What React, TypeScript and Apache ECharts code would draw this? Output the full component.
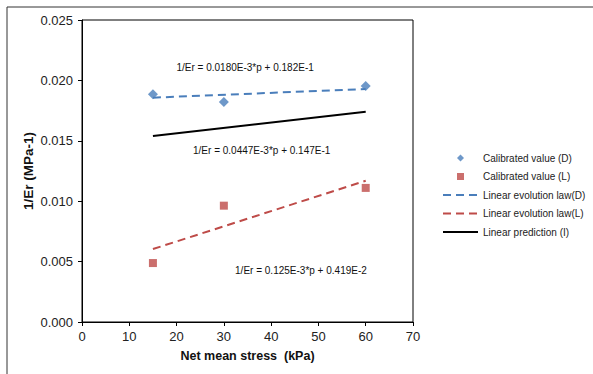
import React, { useEffect, useRef } from "react";
import * as echarts from "echarts";

const xTicks = [0, 10, 20, 30, 40, 50, 60, 70];
const yTicks = [0, 0.005, 0.01, 0.015, 0.02, 0.025];
const calibD: [number, number][] = [[15, 0.01885], [30, 0.01822], [60, 0.01954]];
const calibL: [number, number][] = [[15, 0.00488], [30, 0.00963], [60, 0.0111]];
const lawD: [number, number][] = [[15, 0.01857], [60, 0.01929]];
const lawL: [number, number][] = [[15, 0.00604], [60, 0.01169]];
const predI: [number, number][] = [[15, 0.0154], [60, 0.01741]];
const seriesNames = [
  "Calibrated value (D)",
  "Calibrated value (L)",
  "Linear evolution law(D)",
  "Linear evolution law(L)",
  "Linear prediction (I)",
];
const equations = [
  { text: "1/Er = 0.0180E-3*p + 0.182E-1", p: 34.5, v: 0.02103 },
  { text: "1/Er = 0.0447E-3*p + 0.147E-1", p: 38, v: 0.01418 },
  { text: "1/Er = 0.125E-3*p + 0.419E-2", p: 46.3, v: 0.0043 },
];

const FONT = "Liberation Sans, Arial, sans-serif";
const BLUE = "#4A7EBB";
const RED = "#BE4B48";

export default function App() {
  const ref = useRef<HTMLDivElement>(null);
  useEffect(() => {
    if (!ref.current) return;
    const chart = echarts.init(ref.current, null, { renderer: "svg" });
    const grid = { left: 82, top: 20, right: 180, bottom: 52 };
    const W = 593, H = 374;
    const toPx = (p: number, v: number) => [
      grid.left + (p / xTicks[xTicks.length - 1]) * (W - grid.left - grid.right),
      H - grid.bottom - (v / yTicks[yTicks.length - 1]) * (H - grid.top - grid.bottom),
    ];
    const hiddenSymbol = { color: "transparent", borderWidth: 0, opacity: 0 };
    chart.setOption({
      animation: false,
      backgroundColor: "#ffffff",
      grid: { ...grid, show: true, borderColor: "#000", borderWidth: 1, backgroundColor: "transparent" },
      xAxis: {
        type: "value",
        min: xTicks[0],
        max: xTicks[xTicks.length - 1],
        interval: 10,
        name: "Net mean stress  (kPa)",
        nameLocation: "middle",
        nameGap: 27,
        nameMoveOverlap: false,
        nameTextStyle: { fontFamily: FONT, fontSize: 12.5, fontWeight: "bold", color: "#111" },
        axisLine: { lineStyle: { color: "#000", width: 1 } },
        axisTick: { show: true, length: 4, lineStyle: { color: "#000" } },
        axisLabel: { fontFamily: FONT, fontSize: 13, color: "#222", margin: 8 },
        splitLine: { show: false },
      },
      yAxis: {
        type: "value",
        min: yTicks[0],
        max: yTicks[yTicks.length - 1],
        interval: 0.005,
        name: "1/Er (MPa-1)",
        nameLocation: "middle",
        nameGap: 47,
        nameMoveOverlap: false,
        nameTextStyle: { fontFamily: FONT, fontSize: 13.5, fontWeight: "bold", color: "#111" },
        axisLine: { show: true, lineStyle: { color: "#000", width: 1 } },
        axisTick: { show: true, length: 4, lineStyle: { color: "#000" } },
        axisLabel: {
          fontFamily: FONT,
          fontSize: 13,
          color: "#222",
          margin: 9,
          formatter: (v: number) => v.toFixed(3),
        },
        splitLine: { show: false },
      },
      legend: {
        orient: "vertical",
        left: 437,
        top: 148,
        itemWidth: 35,
        itemHeight: 7,
        itemGap: 8.5,
        symbolKeepAspect: true,
        textStyle: { fontFamily: FONT, fontSize: 10, color: "#222" },
        data: [
          { name: seriesNames[0], icon: "path://M0,-1 L1,0 L0,1 L-1,0 Z" },
          { name: seriesNames[1], icon: "path://M0,0 L1,0 L1,1 L0,1 Z" },
          { name: seriesNames[2], itemStyle: hiddenSymbol },
          { name: seriesNames[3], itemStyle: hiddenSymbol },
          { name: seriesNames[4], itemStyle: hiddenSymbol },
        ],
      },
      series: [
        {
          name: seriesNames[0],
          type: "scatter",
          symbol: "diamond",
          symbolSize: 10,
          itemStyle: { color: BLUE },
          data: calibD,
          z: 5,
        },
        {
          name: seriesNames[1],
          type: "scatter",
          symbol: "rect",
          symbolSize: 8,
          itemStyle: { color: RED },
          data: calibL,
          z: 5,
        },
        {
          name: seriesNames[2],
          type: "line",
          symbol: "none",
          lineStyle: { color: BLUE, width: 2, type: [8, 5] },
          itemStyle: { color: BLUE },
          data: lawD,
        },
        {
          name: seriesNames[3],
          type: "line",
          symbol: "none",
          lineStyle: { color: RED, width: 2, type: [8, 5] },
          itemStyle: { color: RED },
          data: lawL,
        },
        {
          name: seriesNames[4],
          type: "line",
          symbol: "none",
          lineStyle: { color: "#000", width: 2 },
          itemStyle: { color: "#000" },
          data: predI,
        },
      ],
      graphic: [
        {
          type: "polyline",
          silent: true,
          shape: { points: [[7, H], [7, 7], [W, 7]] },
          style: { stroke: "#333", lineWidth: 1, fill: "none" },
        },
        ...equations.map((e) => {
          const [x, y] = toPx(e.p, e.v);
          return {
            type: "text",
            x,
            y,
            silent: true,
            style: {
              text: e.text,
              fontFamily: FONT,
              fontSize: 10,
              fill: "#111",
              textAlign: "center",
              textVerticalAlign: "middle",
            },
          };
        }),
      ],
    });
    return () => chart.dispose();
  }, []);
  return <div ref={ref} style={{ width: 593, height: 374, position: "absolute", left: 0, top: 0 }} />;
}
